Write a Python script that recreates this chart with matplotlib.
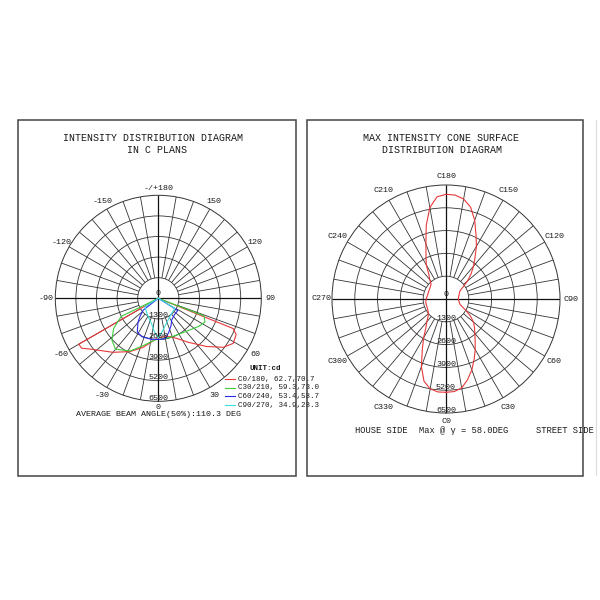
import matplotlib
matplotlib.use('Agg')
import matplotlib.pyplot as plt
import numpy as np
from matplotlib.lines import Line2D
from matplotlib.patches import Rectangle
from matplotlib.transforms import offset_copy

# left diagram: gamma angle (deg, + = C0..C90 side) vs intensity (cd)
gamma_c0 = [-90, -60, -57, -52, -40, -28, -17, -5, 0, 10, 17, 25, 34, 45, 53, 59, 65, 68, 90]
cd_c0 = [0, 5790, 5780, 5240, 4450, 3810, 3230, 2630, 2450, 2480, 2530, 2800, 3340, 4300, 5140, 5520, 5420, 5100, 0]

gamma_c30 = [-90, -64, -56, -48, -40, -28, -18, -3, 0, 16, 35, 55, 63, 69, 90]
cd_c30 = [0, 2600, 3400, 3940, 4200, 3760, 3150, 2600, 2600, 2580, 2660, 3100, 3300, 3100, 0]

gamma_c60 = [-90, -52, -45, -40, -32, -23, -10, 0, 10, 17, 25, 32, 45, 58, 90]
cd_c60 = [0, 1200, 1650, 2000, 2500, 2640, 2620, 2600, 2580, 2250, 1900, 1600, 1450, 1450, 0]

gamma_c90 = [-90, -58, -40, -25, -15, -7, 0, 7, 18, 30, 45, 59, 90]
cd_c90 = [0, 1000, 1150, 1400, 1650, 2100, 2500, 2100, 1660, 1400, 1250, 1230, 0]

curve_names = ['C0/180, 62.7,70.7', 'C30/210, 59.3,73.0', 'C60/240, 53.4,58.7', 'C90/270, 34.9,28.3']
curve_colors = ['#e8383a', '#3ccc3c', '#2a2af0', '#3cdede']

# right diagram: C angle (deg) vs intensity (cd) on the max cone (gamma = 58)
cone_c = list(range(0, 365, 5))
cone_cd = [5320, 5300, 5150, 4760, 4300, 3800, 3330, 2900, 2560, 2300, 2050, 1700,   # 0-55
           1330, 1000, 840, 790, 750, 720, 705, 710, 730, 760, 800, 850,              # 60-115
           920, 1180, 1600, 2020, 2440, 2880, 3470, 4050, 4780, 5420, 5790, 5950,     # 120-175
           5970, 5850, 5300, 4350, 3350, 2700, 2250, 1700, 1440, 1200, 1150, 1110,    # 180-235
           1090, 1080, 1070, 1070, 1080, 1100, 1120, 1150, 1170, 1170, 1170, 1180,    # 240-295
           1200, 1250, 1300, 1450, 1700, 2000, 2550, 3200, 4100, 4850, 5200, 5320,    # 300-355
           5320]

rings = [1300, 2600, 3900, 5200, 6500]
left_ticks = [0, 30, 60, 90, 120, 150, 180, -150, -120, -90, -60, -30]
left_tick_labels = ['0', '30', '60', '90', '120', '150', '-/+180', '-150', '-120', '-90', '-60', '-30']
cone_ticks = list(range(0, 360, 30))
cone_tick_labels = ['C%d' % c for c in cone_ticks]

W, H = 600, 600
MONO = ['Liberation Mono', 'DejaVu Sans Mono']
INK = '#1a1a1a'

fig = plt.figure(figsize=(6, 6), dpi=100)
fig.patch.set_facecolor('white')


def fx(x):
    return x / W


def fy(y):
    return 1 - y / H


def ftext(x, y, s, size, **kw):
    fig.text(fx(x), fy(y), s, fontsize=size, family=MONO, color=INK,
             ha=kw.pop('ha', 'center'), va=kw.pop('va', 'center'), **kw)


def polar_frame(cx, cy, rad, ticks, labels, label_r):
    ax = fig.add_axes([fx(cx - rad), fy(cy + rad), 2 * rad / W, 2 * rad / H], projection='polar')
    ax.set_theta_zero_location('S')
    ax.set_theta_direction(1)
    ax.set_ylim(0, rings[-1])
    ax.set_xticks([])
    ax.set_yticks(rings[:-1])
    ax.set_yticklabels([])
    ax.xaxis.grid(False)
    ax.yaxis.grid(True, color='#333333', lw=0.6)
    ax.spines['polar'].set_color('#333333')
    ax.spines['polar'].set_linewidth(0.7)
    spokes = np.deg2rad(np.arange(0, 360, 10))
    ax.vlines(spokes, rings[0], rings[-1], color='#333333', lw=0.6)
    ax.vlines(np.deg2rad([0, 90, 180, 270]), 0, rings[-1], color='#111111', lw=0.9)
    up = offset_copy(ax.transData, fig=fig, y=3, units='dots')
    for r in rings:
        ax.text(0, r, str(r), transform=up, ha='center', va='center',
                fontsize=6, family=MONO, color=INK)
    ax.text(0, 0, '0', transform=offset_copy(ax.transData, fig=fig, y=5, units='dots'),
            ha='center', va='center', fontsize=6, family=MONO, color=INK)
    for t, s in zip(ticks, labels):
        rr = label_r - (0.02 if t % 180 == 0 else 0)
        ax.text(np.deg2rad(t), rings[-1] * rr, s, ha='center', va='center',
                fontsize=6, family=MONO, color=INK, clip_on=False)
    return ax


# panel frames
fig.add_artist(Rectangle((fx(18), fy(475.5)), (296.5 - 18) / W, (475.5 - 120) / H,
                         transform=fig.transFigure, fill=False, ec='#444444', lw=1.1, zorder=5))
fig.add_artist(Rectangle((fx(306.7), fy(475.5)), (582.7 - 306.7) / W, (475.5 - 120) / H,
                         transform=fig.transFigure, fill=False, ec='#444444', lw=1.1, zorder=5))
fig.add_artist(Line2D([fx(596), fx(596)], [fy(120), fy(475)], transform=fig.transFigure,
                      color='#dddddd', lw=0.8))

# left: intensity distribution in C planes
axl = polar_frame(158.3, 298.3, 103, left_ticks, left_tick_labels, 1.085)
left_series = [(gamma_c0, cd_c0), (gamma_c30, cd_c30), (gamma_c60, cd_c60), (gamma_c90, cd_c90)]
for (g, cd), col in zip(left_series, curve_colors):
    axl.plot(np.deg2rad(g), cd, color=col, lw=0.8)

ftext(153, 138, 'INTENSITY DISTRIBUTION DIAGRAM', 7.2)
ftext(157, 150, 'IN C PLANS', 7.2)
ftext(159, 414.5, 'AVERAGE BEAM ANGLE(50%):110.3 DEG', 6.0)

# legend
ftext(250, 369, 'UNIT:cd', 5.4, ha='left', weight='bold')
for i, (name, col) in enumerate(zip(curve_names, curve_colors)):
    y = 379 + i * 8.7
    fig.add_artist(Line2D([fx(225), fx(235)], [fy(y), fy(y)], transform=fig.transFigure,
                          color=col, lw=0.8))
    ftext(238.3, y, name, 5.4, ha='left')

# right: max intensity cone surface
axr = polar_frame(446, 299, 114, cone_ticks, cone_tick_labels, 1.095)
axr.plot(np.deg2rad(cone_c), cone_cd, color='#e8383a', lw=0.8)

ftext(440.6, 138, 'MAX INTENSITY CONE SURFACE', 7.2)
ftext(442, 150, 'DISTRIBUTION DIAGRAM', 7.2)
ftext(381, 430.7, 'HOUSE SIDE', 6.3)
ftext(464, 430.7, 'Max @ \u03b3 = 58.0DEG', 6.3)
ftext(565, 430.7, 'STREET SIDE', 6.3)

fig.savefig('out.png', dpi=100, facecolor='white')
